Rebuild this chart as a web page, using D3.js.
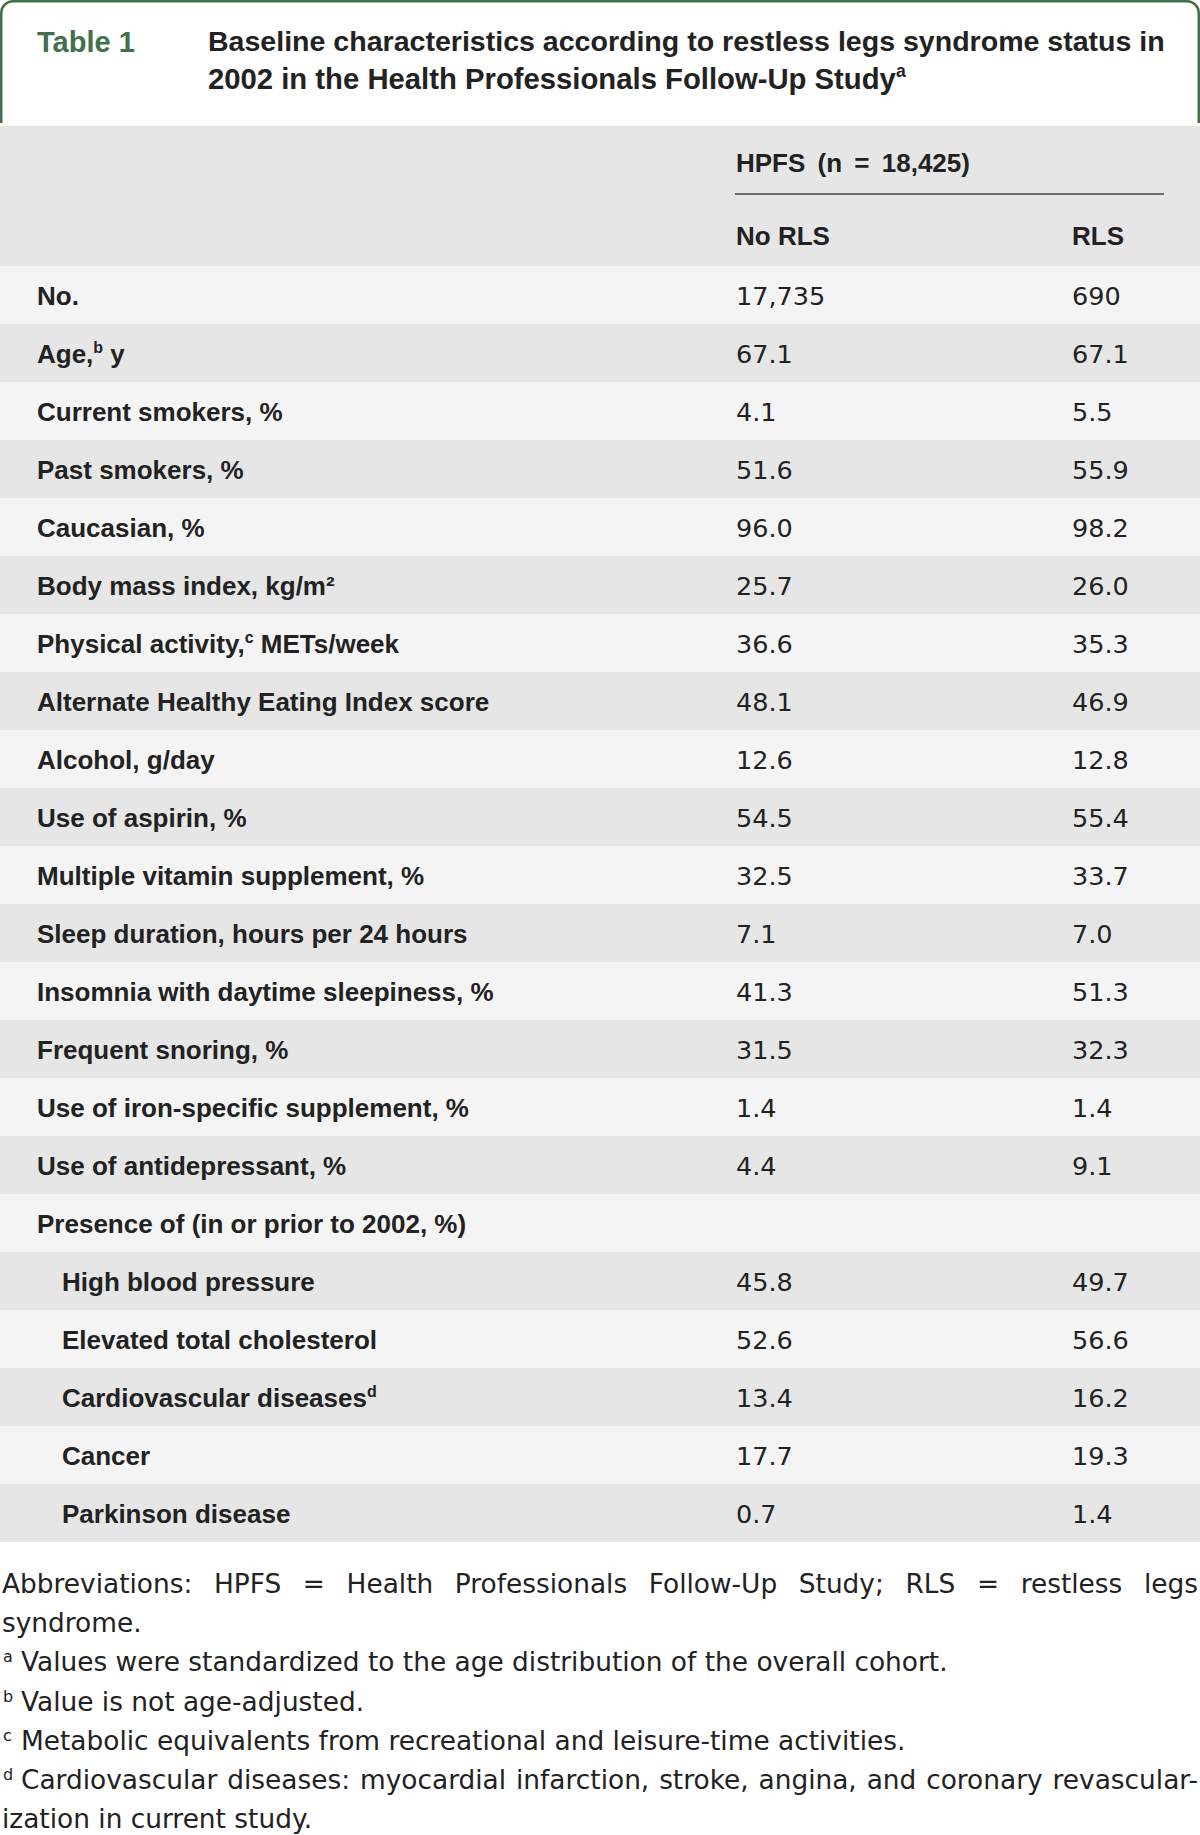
<!DOCTYPE html>
<html>
<head>
<meta charset="utf-8">
<script src="https://cdn.jsdelivr.net/npm/d3@7/dist/d3.min.js"></script>
<style>
  html, body { margin: 0; padding: 0; background: #fff; }
  svg { display: block; }
</style>
</head>
<body>
<svg id="chart" width="1200" height="1835"></svg>
<script>
// ---------------- DATA ----------------
const tableNumber = "Table 1";
const titleLines = [
  "Baseline characteristics according to restless legs syndrome status in",
  "2002 in the Health Professionals Follow-Up Study{a}"
];
const groupHeader = "HPFS (n = 18,425)";
const columnHeaders = ["No RLS", "RLS"];

const rowLabels = [
  "No.",
  "Age,{b} y",
  "Current smokers, %",
  "Past smokers, %",
  "Caucasian, %",
  "Body mass index, kg/m²",
  "Physical activity,{c} METs/week",
  "Alternate Healthy Eating Index score",
  "Alcohol, g/day",
  "Use of aspirin, %",
  "Multiple vitamin supplement, %",
  "Sleep duration, hours per 24 hours",
  "Insomnia with daytime sleepiness, %",
  "Frequent snoring, %",
  "Use of iron-specific supplement, %",
  "Use of antidepressant, %",
  "Presence of (in or prior to 2002, %)",
  "High blood pressure",
  "Elevated total cholesterol",
  "Cardiovascular diseases{d}",
  "Cancer",
  "Parkinson disease"
];
const rowIndented = [0,0,0,0,0,0,0,0,0,0,0,0,0,0,0,0,0,1,1,1,1,1];

const noRLSValues = ["17,735","67.1","4.1","51.6","96.0","25.7","36.6","48.1","12.6","54.5","32.5","7.1","41.3","31.5","1.4","4.4","","45.8","52.6","13.4","17.7","0.7"];
const rlsValues   = ["690","67.1","5.5","55.9","98.2","26.0","35.3","46.9","12.8","55.4","33.7","7.0","51.3","32.3","1.4","9.1","","49.7","56.6","16.2","19.3","1.4"];

const footnotes = [
  {sup: "",  text: "Abbreviations: HPFS = Health Professionals Follow-Up Study; RLS = restless legs", justify: true},
  {sup: "",  text: "syndrome.", justify: false},
  {sup: "a", text: "Values were standardized to the age distribution of the overall cohort.", justify: false},
  {sup: "b", text: "Value is not age-adjusted.", justify: false},
  {sup: "c", text: "Metabolic equivalents from recreational and leisure-time activities.", justify: false},
  {sup: "d", text: "Cardiovascular diseases: myocardial infarction, stroke, angina, and coronary revascular-", justify: true},
  {sup: "",  text: "ization in current study.", justify: false}
];

// ---------------- DRAW ----------------
const svg = d3.select("#chart");
const W = 1200;
const green = "#41704b";
const ink = "#222";
const boldFont = "'Liberation Sans', Arial, sans-serif";
const regFont = "'DejaVu Sans', Verdana, sans-serif";

// header box with rounded top corners
const hdrBottom = 123, r = 13, sw = 2.5;
svg.append("path")
  .attr("d", `M${sw/2},${hdrBottom} V${r} A${r - sw/2},${r - sw/2} 0 0 1 ${r},${sw/2} H${W - r} A${r - sw/2},${r - sw/2} 0 0 1 ${W - sw/2},${r} V${hdrBottom}`)
  .attr("fill", "none").attr("stroke", green).attr("stroke-width", sw);

svg.append("text")
  .attr("x", 37).attr("y", 52)
  .attr("font-family", boldFont).attr("font-weight", "bold")
  .attr("font-size", 29).attr("fill", green)
  .text(tableNumber);

// helper to append text with {x} superscripts
function richText(sel, str, supSize, supShift) {
  const parts = str.split(/(\{[a-z]\})/);
  parts.forEach(p => {
    if (!p) return;
    const m = p.match(/^\{([a-z])\}$/);
    if (m) {
      sel.append("tspan").attr("font-size", supSize).attr("baseline-shift", supShift).text(m[1]);
    } else {
      sel.append("tspan").text(p);
    }
  });
}

// title, fitted to the measured width of its lines
const titleX = 208;
const t1 = svg.append("text")
  .attr("x", titleX).attr("y", 51)
  .attr("font-family", boldFont).attr("font-weight", "bold")
  .attr("font-size", 28).attr("fill", ink)
  .text(titleLines[0]);
const titleSize = 28 * 957 / t1.node().getComputedTextLength();
t1.attr("font-size", titleSize);

const t2 = svg.append("text")
  .attr("x", titleX).attr("y", 89)
  .attr("font-family", boldFont).attr("font-weight", "bold")
  .attr("font-size", titleSize).attr("fill", ink);
const line2Main = titleLines[1].replace(/\{[a-z]\}/, "");
const probe = svg.append("text").attr("font-family", boldFont).attr("font-weight", "bold")
  .attr("font-size", titleSize).text(line2Main);
const line2Size = titleSize * (896 - titleX) / probe.node().getComputedTextLength();
probe.remove();
t2.attr("font-size", line2Size);
richText(t2, titleLines[1], line2Size * 0.6, line2Size * 0.4);

// column header band
const headTop = 126, bodyTop = 266, bodyBottom = 1542;
svg.append("rect").attr("x", 0).attr("y", headTop)
  .attr("width", W).attr("height", bodyTop - headTop).attr("fill", "#e6e6e6");

const colX = d3.scaleOrdinal().domain(columnHeaders).range([736, 1072]);

const gh = svg.append("text")
  .attr("x", colX(columnHeaders[0])).attr("y", 172)
  .attr("font-family", boldFont).attr("font-weight", "bold")
  .attr("font-size", 26).attr("fill", ink);
groupHeader.split(" ").forEach((w, k) => {
  gh.append("tspan").attr("dx", k === 0 ? 0 : 5).text((k === 0 ? "" : " ") + w);
});
svg.append("line")
  .attr("x1", 735).attr("x2", 1164).attr("y1", 194).attr("y2", 194)
  .attr("stroke", "#6b6b6b").attr("stroke-width", 2);

svg.selectAll("text.colhead").data(columnHeaders).join("text")
  .attr("class", "colhead")
  .attr("x", d => colX(d)).attr("y", 245)
  .attr("font-family", boldFont).attr("font-weight", "bold")
  .attr("font-size", 26).attr("fill", ink)
  .text(d => d);

// body rows
const y = d3.scaleBand().domain(d3.range(rowLabels.length)).range([bodyTop, bodyBottom]).padding(0);

const rows = svg.selectAll("g.row").data(rowLabels.map((l, i) => ({
  label: l, indent: rowIndented[i], a: noRLSValues[i], b: rlsValues[i], i
}))).join("g").attr("class", "row")
  .attr("transform", d => `translate(0,${y(d.i)})`);

rows.append("rect")
  .attr("x", 0).attr("y", 0).attr("width", W).attr("height", y.bandwidth())
  .attr("fill", d => d.i % 2 === 0 ? "#f4f4f4" : "#e6e6e6");

const baseOff = 39;
rows.each(function(d) {
  const g = d3.select(this);
  const t = g.append("text")
    .attr("x", d.indent ? 62 : 37).attr("y", baseOff)
    .attr("font-family", boldFont).attr("font-weight", "bold")
    .attr("font-size", 26).attr("fill", ink);
  richText(t, d.label, 16, 10);
  [[d.a, colX(columnHeaders[0])], [d.b, colX(columnHeaders[1])]].forEach(([v, x]) => {
    if (!v) return;
    g.append("text")
      .attr("x", x).attr("y", baseOff)
      .attr("font-family", regFont).attr("font-size", 25.5).attr("fill", ink)
      .text(v);
  });
});

// footnotes
const fnY = [1593, 1632, 1671, 1711, 1750, 1789, 1828];
const fnSize = 26.4;
footnotes.forEach((f, i) => {
  const g = svg.append("g").attr("transform", `translate(0,${fnY[i]})`);
  let x0 = 2;
  if (f.sup) {
    g.append("text").attr("x", 3).attr("y", -9)
      .attr("font-family", regFont).attr("font-size", 16).attr("fill", ink)
      .text(f.sup);
    x0 = 21;
  }
  if (!f.justify) {
    g.append("text").attr("x", x0).attr("y", 0)
      .attr("font-family", regFont).attr("font-size", fnSize).attr("fill", ink)
      .text(f.text);
  } else {
    const words = f.text.split(" ");
    const nodes = words.map(w => g.append("text").attr("y", 0)
      .attr("font-family", regFont).attr("font-size", fnSize).attr("fill", ink).text(w));
    const widths = nodes.map(n => n.node().getComputedTextLength());
    const total = d3.sum(widths);
    const gap = (1198 - x0 - total) / (words.length - 1);
    let x = x0;
    nodes.forEach((n, k) => { n.attr("x", x); x += widths[k] + gap; });
  }
});
</script>
</body>
</html>
